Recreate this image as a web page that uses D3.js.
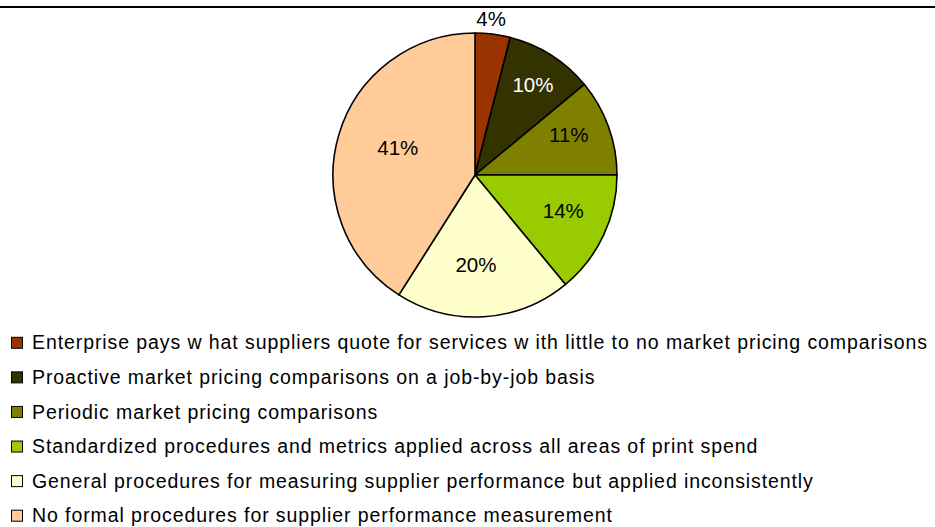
<!DOCTYPE html>
<html>
<head>
<meta charset="utf-8">
<script src="https://cdn.jsdelivr.net/npm/d3@7"></script>
<style>
  html, body { margin: 0; padding: 0; background: #fff; }
  svg { display: block; }
  text { font-family: "Liberation Sans", Arial, sans-serif; }
</style>
</head>
<body>
<svg id="chart" width="935" height="527"></svg>
<script>
const categories = [
  "Enterprise pays w hat suppliers quote for services w ith little to no market pricing comparisons",
  "Proactive market pricing comparisons on a job-by-job basis",
  "Periodic market pricing comparisons",
  "Standardized procedures and metrics applied across all areas of print spend",
  "General procedures for measuring supplier performance but applied inconsistently",
  "No formal procedures for supplier performance measurement"
];
const values = [4, 10, 11, 14, 20, 41];
const colors = ["#993300", "#333300", "#808000", "#99CC00", "#FFFFCC", "#FFCC99"];
const labelColors = ["#000", "#fff", "#000", "#000", "#000", "#000"];
// Excel-style label placement: distance from centre and small angular nudge (degrees)
const labelRadii = [157, 107, 102, 95, 90, 82];
const labelAngleShift = [-1.3, 0.4, -3.3, -3.5, 3.0, 3.5];

const svg = d3.select("#chart");
const cx = 475, cy = 175, R = 142;

// top rule
svg.append("line")
  .attr("x1", 0).attr("x2", 935).attr("y1", 7).attr("y2", 7)
  .attr("stroke", "#000").attr("stroke-width", 2);

const pie = d3.pie().sort(null).value(d => d);
const arcs = pie(values);
const arc = d3.arc().innerRadius(0).outerRadius(R);

const g = svg.append("g").attr("transform", `translate(${cx},${cy})`);
g.selectAll("path.slice")
  .data(arcs)
  .join("path")
  .attr("class", "slice")
  .attr("d", arc)
  .attr("fill", (d, i) => colors[i])
  .attr("stroke", "#000")
  .attr("stroke-width", 1.6)
  .attr("stroke-linejoin", "round");

g.selectAll("text.lbl")
  .data(arcs)
  .join("text")
  .attr("class", "lbl")
  .attr("transform", (d, i) => {
    const a = (d.startAngle + d.endAngle) / 2 + labelAngleShift[i] * Math.PI / 180;
    const r = labelRadii[i];
    return `translate(${r * Math.sin(a)},${-r * Math.cos(a)})`;
  })
  .attr("text-anchor", "middle")
  .attr("dy", "0.36em")
  .attr("font-size", 20.5)
  .attr("fill", (d, i) => labelColors[i])
  .text(d => d.data + "%");

// legend
const legendY = d3.scaleBand().domain(d3.range(categories.length)).range([325.5, 533]);
const leg = svg.append("g");
const rows = leg.selectAll("g.row")
  .data(categories)
  .join("g")
  .attr("class", "row")
  .attr("transform", (d, i) => `translate(0,${legendY(i) + legendY.bandwidth() / 2})`);
rows.append("rect")
  .attr("x", 11.5).attr("y", -5.5).attr("width", 11).attr("height", 11)
  .attr("fill", (d, i) => colors[i])
  .attr("stroke", "#000").attr("stroke-width", 1);
const texts = rows.append("text")
  .attr("x", 32).attr("dy", "0.34em")
  .attr("font-size", 19.5)
  .attr("fill", "#000")
  .text(d => d);
// slightly looser letter spacing to match the wide reference rendering
const firstLen = texts.node().getComputedTextLength();
const ls = Math.max(0, (896 - firstLen) / categories[0].length);
texts.attr("letter-spacing", ls);
</script>
</body>
</html>
